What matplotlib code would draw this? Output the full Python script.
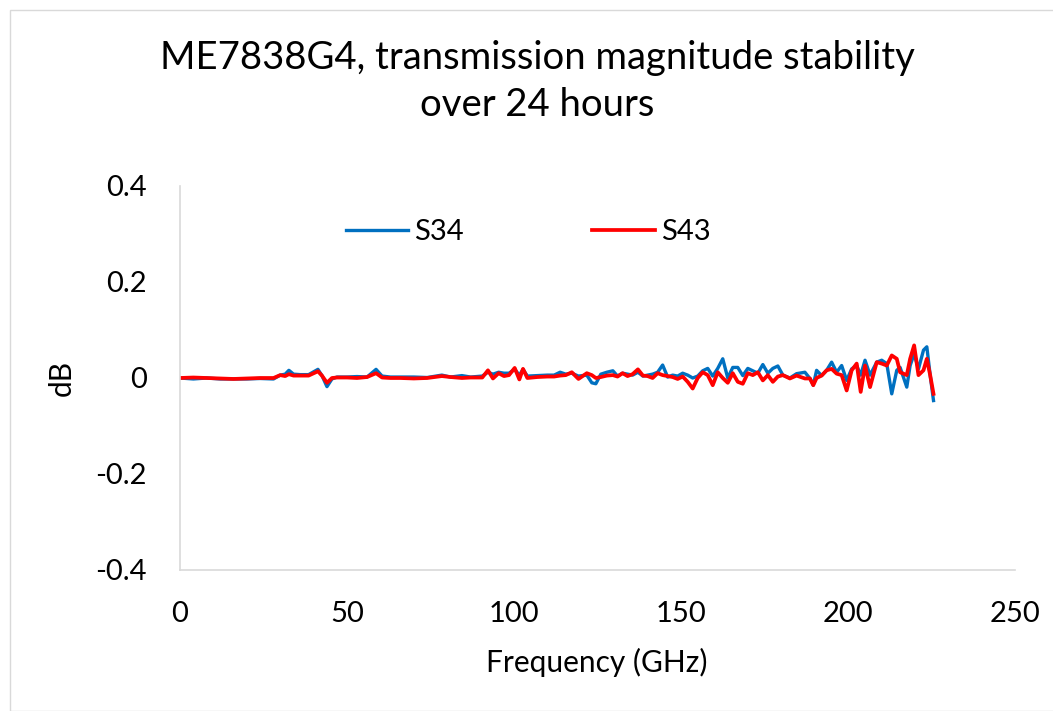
import matplotlib
matplotlib.use('Agg')
import matplotlib.pyplot as plt
from matplotlib.patches import Rectangle

plt.rcParams['font.family'] = ['Lato', 'DejaVu Sans']

# frequency points (GHz)
freq = [0, 4, 8, 12, 16, 20, 24, 28, 30, 31.5, 32.6, 34, 36, 38.5, 41.3, 42.5, 44, 45.5, 47, 50,
        53, 56, 58.7, 60.5, 63, 66, 70, 74, 78.4, 81, 84.4, 87, 90.5, 92.2, 93.7, 95.4, 97, 98.5,
        100.2, 101.6, 102.7, 104, 107, 110, 112, 113.8, 115.5, 117.3, 119.3, 121.8, 123.3, 124.5,
        126, 127.8, 129.6, 131, 132.5, 134, 135.5, 137.1, 138.6,
        140, 141.5, 143, 144.5, 146, 147.5, 149, 150.5, 152, 153.5, 155, 156.5, 158, 159.5, 161,
        162.5, 164, 165.5, 167, 168.5, 170, 171.5, 173, 174.5, 176, 177.5, 179, 180.5,
        182.6, 184.6, 187.1, 188.6, 189.6, 190.6, 192.1, 193.6, 195.1, 196.6, 198.1, 199.6, 201.1,
        202.6, 203.8, 205.1, 206.6, 208.6, 210.1, 211.6, 213.1, 214.6, 215.6, 217.6, 218.6, 219.8,
        221.1, 222.6, 223.6, 224.6, 225.6]

s34 = [0.0, -0.002, 0.0, -0.002, -0.002, -0.002, -0.001, -0.002, 0.006, 0.008, 0.016, 0.008, 0.007,
       0.007, 0.018, 0.005, -0.018, -0.002, 0.002, 0.002, 0.003, 0.002, 0.018, 0.004, 0.002, 0.002,
       0.002, 0.001, 0.006, 0.002, 0.005, 0.002, 0.004, 0.012, 0.008, 0.012, 0.01, 0.01, 0.018,
       0.006, 0.018, 0.004, 0.005, 0.006, 0.006, 0.012, 0.008, 0.01, 0.004, 0.006, -0.01, -0.012,
       0.008, 0.012, 0.015, 0.004, 0.01, 0.008, 0.006, 0.012, 0.004,
       0.006, 0.008, 0.012, 0.027, 0.002, 0.006, 0.004, 0.01, 0.006, 0.0, 0.004, 0.015, 0.02,
       0.004, 0.02, 0.04, 0.0, 0.022, 0.022, 0.005, 0.02, 0.015, 0.01, 0.028, 0.01, 0.02, 0.025,
       0.006,
       0.0, 0.009, 0.012, -0.001, -0.015, 0.016, 0.005, 0.016, 0.033, 0.012, 0.026, -0.005, 0.019,
       0.026, 0.006, 0.037, 0.006, 0.033, 0.037, 0.03, -0.033, 0.016, 0.022, -0.019, 0.026, 0.05,
       0.019, 0.058, 0.065, 0.006, -0.047]

s43 = [0.0, 0.001, 0.0, -0.001, -0.002, -0.001, 0.0, 0.0, 0.006, 0.004, 0.008, 0.005, 0.005,
       0.005, 0.014, 0.005, -0.01, 0.0, 0.001, 0.001, 0.0, 0.002, 0.01, 0.001, 0.0, 0.0,
       -0.001, 0.0, 0.004, 0.002, 0.0, 0.001, 0.001, 0.016, -0.001, 0.01, 0.004, 0.006, 0.021,
       -0.003, 0.019, 0.0, 0.002, 0.003, 0.003, 0.005, 0.006, 0.012, -0.002, 0.01, 0.006, 0.0,
       0.002, 0.005, 0.006, 0.003, 0.01, 0.004, 0.008, 0.018, 0.005,
       0.004, 0.0, 0.01, 0.006, 0.004, 0.002, -0.002, 0.003, -0.008, -0.022, 0.0, 0.012, 0.006,
       -0.015, 0.012, 0.0, -0.01, 0.01, -0.008, -0.012, 0.01, 0.006, 0.012, -0.005, 0.006, -0.008,
       0.003, 0.006,
       -0.001, 0.005, -0.001, -0.001, -0.015, 0.0, 0.005, 0.016, 0.019, 0.009, 0.006, -0.026,
       0.016, 0.03, -0.029, 0.026, -0.019, 0.033, 0.03, 0.026, 0.047, 0.04, 0.012, 0.006, 0.04,
       0.068, 0.006, 0.016, 0.04, 0.006, -0.033]

xticks = [0, 50, 100, 150, 200, 250]
yticks = [-0.4, -0.2, 0, 0.2, 0.4]
ytick_labels = ['-0.4', '-0.2', '0', '0.2', '0.4']

fig = plt.figure(figsize=(10.53, 7.11), dpi=100)
fig.patches.append(Rectangle((10 / 1053, 0), 1.0, 1 - 10 / 711, transform=fig.transFigure,
                             fill=False, edgecolor='#d9d9d9', linewidth=1))
ax = fig.add_axes([180 / 1053, 1 - 570 / 711, 835 / 1053, 384 / 711])

ax.plot(freq, s34, color='#0070C0', linewidth=2.4, label='S34')
ax.plot(freq, s43, color='#FF0000', linewidth=2.7, label='S43')

ax.set_xlim(0, 250)
ax.set_ylim(-0.4, 0.4)
ax.set_xticks(xticks)
ax.set_yticks(yticks)
ax.set_yticklabels(ytick_labels)
ax.tick_params(length=0, labelsize=21, colors='black')
ax.tick_params(axis='x', pad=22)
ax.tick_params(axis='y', pad=24)
for side in ['top', 'right']:
    ax.spines[side].set_visible(False)
for side in ['left', 'bottom']:
    ax.spines[side].set_color('#d9d9d9')
    ax.spines[side].set_linewidth(1.2)

fig.text(537 / 1053, 1 - 58 / 711, 'ME7838G4, transmission magnitude stability',
         ha='center', va='center', fontsize=27.5)
fig.text(537 / 1053, 1 - 105 / 711, 'over 24 hours', ha='center', va='center', fontsize=27.5)
fig.text(597 / 1053, 1 - 662 / 711, 'Frequency (GHz)', ha='center', va='center', fontsize=21.5)
fig.text(62 / 1053, 1 - 378 / 711, 'dB', ha='center', va='center', fontsize=21.5, rotation=90)

fig.legend(loc='center', bbox_to_anchor=(528 / 1053, 1 - 232 / 711), ncol=2, frameon=False,
           fontsize=21, handlelength=2.15, handletextpad=0.2, columnspacing=4.4)

fig.savefig('out.png', dpi=100)
